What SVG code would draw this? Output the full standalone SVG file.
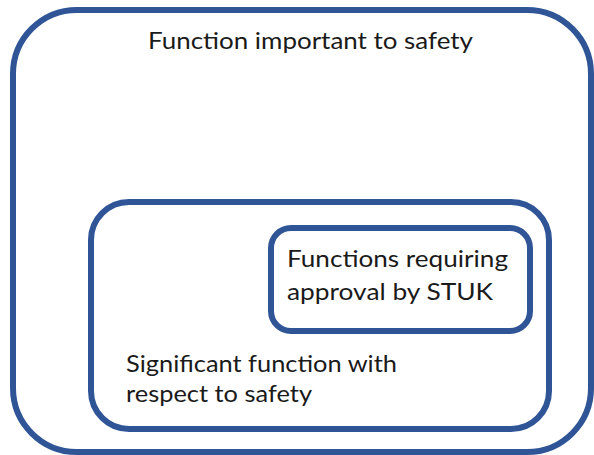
<svg xmlns="http://www.w3.org/2000/svg" width="594" height="455" viewBox="0 0 594 455">
<style>
.box{fill:none;stroke:#2F5597;stroke-width:6}
.t{font-family:Lato,"Open Sans","Liberation Sans",sans-serif;font-size:24px;fill:#1a1a1a}
</style>
<rect width="594" height="455" fill="#ffffff"/>
<g id="outer">
<rect class="box" x="13" y="10" width="578" height="442" rx="64" ry="64"/>
<text class="t" x="148" y="49" textLength="325" lengthAdjust="spacingAndGlyphs">Function important to safety</text>
</g>
<g id="significant">
<rect class="box" x="91" y="202" width="458" height="227" rx="38" ry="38"/>
<text class="t" x="126" y="372" textLength="271" lengthAdjust="spacingAndGlyphs">Significant function with</text>
<text class="t" x="126" y="402" textLength="186" lengthAdjust="spacingAndGlyphs">respect to safety</text>
</g>
<g id="stuk">
<rect class="box" x="271" y="228" width="259" height="103" rx="20" ry="20"/>
<text class="t" x="287" y="267" textLength="221" lengthAdjust="spacingAndGlyphs">Functions requiring</text>
<text class="t" x="287" y="300" textLength="206" lengthAdjust="spacingAndGlyphs">approval by STUK</text>
</g>
<g id="connectors"></g>
</svg>
